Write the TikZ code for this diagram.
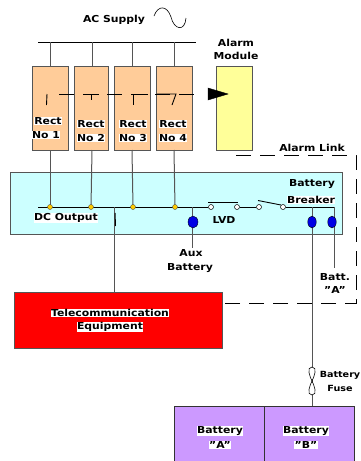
\documentclass[tikz,border=0pt]{standalone}
\usepackage{fontspec}
\setmainfont[FakeStretch=1.13]{DejaVu Sans}
\usetikzlibrary{arrows.meta,shapes.geometric}
\definecolor{wire}{HTML}{555555}
\definecolor{peach}{HTML}{FFCC99}
\definecolor{paleyellow}{HTML}{FFFF99}
\definecolor{palecyan}{HTML}{CCFFFF}
\definecolor{lilac}{HTML}{CC99FF}
\definecolor{gold}{HTML}{FFCC00}
\tikzset{x=1pt,y=-1pt,
 boxn/.style={draw=wire,line width=1pt,inner sep=0pt,outer sep=0pt,anchor=north west},
 wireline/.style={draw=wire,line width=1pt},
 blackline/.style={draw=black,line width=.9pt},
 txt/.style={font=\fontsize{9.6}{10}\selectfont\bfseries,inner sep=.3pt,text=black},
 ltxt/.style={txt,fill=white},
 edgetxt/.style={txt,font=\fontsize{8.5}{9}\selectfont\bfseries},
 junc/.style={circle,draw=black!70,fill=gold,minimum size=5pt,inner sep=0pt,line width=.4pt},
 bluedot/.style={ellipse,draw=black,fill=blue!90!black,inner sep=0pt,line width=.4pt},
 opent/.style={circle,draw=black,fill=white,minimum size=5pt,inner sep=0pt,line width=.5pt},
 dashlink/.style={draw=black,line width=1pt,dash pattern=on 15pt off 9pt}}
\begin{document}
\begin{tikzpicture}
\useasboundingbox (0,0) rectangle (361,461);
% boxes
\node[boxn,fill=palecyan,minimum width=332pt,minimum height=62pt] (psu) at (10,172) {};
\node[boxn,fill=peach,minimum width=36pt,minimum height=84pt] (r1) at (32,66) {};
\node[boxn,fill=peach,minimum width=34pt,minimum height=84pt] (r2) at (74,66) {};
\node[boxn,fill=peach,minimum width=36pt,minimum height=84pt] (r3) at (114,66) {};
\node[boxn,fill=peach,minimum width=36pt,minimum height=84pt] (r4) at (156,66) {};
\node[boxn,fill=paleyellow,minimum width=36pt,minimum height=84pt] (alarm) at (216,66) {};
\node[boxn,fill=red,minimum width=208pt,minimum height=56pt] (tele) at (14,292) {};
\node[boxn,fill=lilac,draw=black!80,minimum width=90pt,minimum height=58pt] (batA) at (174,406) {};
\node[boxn,fill=lilac,draw=black!80,minimum width=90pt,minimum height=58pt] (batB) at (264,406) {};
% AC bus
\coordinate (acL) at (38,42); \coordinate (acR) at (196,42);
\draw[blackline] (acL) -- (acR);
\coordinate (ac1) at (50,42); \coordinate (ac2) at (92,42); \coordinate (ac3) at (132,42); \coordinate (ac4) at (174,42);
\draw[wireline] (ac1) -- (ac1 |- r1.north);
\draw[wireline] (ac2) -- (ac2 |- r2.north);
\draw[wireline] (ac3) -- (ac3 |- r3.north);
\draw[wireline] (ac4) -- (ac4 |- r4.north);
% DC bus
\coordinate (dcL) at (38,207);
\coordinate (dc1) at (50,207); \coordinate (dc2) at (91,207); \coordinate (dc3) at (133,207); \coordinate (dc4) at (175,207);
\draw[wireline] (r1.south -| ac1) -- (dc1);
\draw[wireline] (r2.south -| ac2) -- (dc2);
\draw[wireline] (r3.south -| ac3) -- (dc3);
\draw[wireline] (r4.south -| ac4) -- (dc4);
\node[opent] (l1) at (211,207) {};
\node[opent] (l2) at (237,207) {};
\node[opent] (s1) at (259,207) {};
\node[opent] (s2) at (283,207) {};
\draw[blackline] (dcL) -- (l1);
\draw[blackline] (208,202) -- (238,202);
\draw[blackline] (l2) -- (s1);
\draw[blackline] (258,200.5) -- (281,205);
\coordinate (brk) at (334,207);
\draw[blackline] (s2) -- (brk);
\foreach \n in {dc1,dc2,dc3,dc4}{\node[junc] at (\n) {};}
% feeds
\coordinate (t0) at (114,207);
\draw[wireline] (t0) -- (t0 |- tele.north);
\draw[blackline,line width=1pt] (115,213) -- (115.5,226);
\coordinate (aux0) at (192,207); \coordinate (aux1) at (192,248);
\draw[wireline] (aux0) -- (aux1);
\node[bluedot,minimum width=10pt,minimum height=12pt] at (193,222) {};
\coordinate (b0) at (312,207);
\draw[wireline] (b0) -- (b0 |- batA.north);
\node[bluedot,minimum width=8.5pt,minimum height=12pt] at (312,222) {};
\draw[wireline] (brk) -- (334,268);
\node[bluedot,minimum width=8.5pt,minimum height=12pt] at (332,222) {};
% fuse
\draw[black,line width=.6pt,fill=white] (312,367) .. controls (306,367) and (310,377) .. (312,381) .. controls (314,377) and (318,367) .. (312,367);
\draw[black,line width=.6pt,fill=white] (312,395) .. controls (306,395) and (310,385) .. (312,381) .. controls (314,385) and (318,395) .. (312,395);
% alarm link
\draw[blackline] (47,94) -- (46.5,105);
\draw[blackline] (85,94) -- (99,94) (91.5,94) -- (91.5,100);
\draw[blackline] (148,94) -- (133,94) -- (133,105);
\draw[blackline] (157,94) -- (176,94) -- (172,105);
\coordinate (la) at (59,94);
\draw[dashlink] (la) -- (200,94);
\coordinate (arrowend) at (228,94);
\draw[fill=black,draw=black] (208,88) -- (arrowend) -- (208,100) -- cycle;
\draw[dashlink] (236,155) -- (356,155) -- (356,303) -- (222,303);
% labels
\node[txt] (acs) at (114,20) {AC Supply};
\draw[black,line width=.6pt] (154,16) .. controls (158,5) and (167,5) .. (171,17) .. controls (174,30) and (185,32) .. (186,18);
\node[txt] at (236,43) {Alarm};
\node[txt] at (236,56) {Module};
\node[ltxt] at (48,121) {Rect};
\node[ltxt] at (46,135) {No 1};
\node[ltxt] at (91,124) {Rect};
\node[ltxt] at (91,138) {No 2};
\node[ltxt] at (133,124) {Rect};
\node[ltxt] at (133,138) {No 3};
\node[ltxt] at (173,124) {Rect};
\node[ltxt] at (173,138) {No 4};
\node[txt] at (312,148) {Alarm Link};
\node[ltxt] at (66,218) {DC Output};
\node[txt] at (224,220) {LVD};
\node[txt] at (312,184) {Battery};
\node[ltxt] at (311,200) {Breaker};
\node[txt] at (191,253) {Aux};
\node[txt] at (190,268) {Battery};
\node[txt] at (335,277) {Batt.};
\node[txt] at (335,290) {"A"};
\node[ltxt] at (110,313) {Telecommunication};
\node[ltxt] at (110,327) {Equipment};
\node[edgetxt] at (340,375) {Battery};
\node[edgetxt] at (340,388) {Fuse};
\node[ltxt] at (220,431) {Battery};
\node[ltxt] at (220,445) {"A"};
\node[ltxt] at (306,431) {Battery};
\node[ltxt] at (306,445) {"B"};
\end{tikzpicture}
\end{document}
